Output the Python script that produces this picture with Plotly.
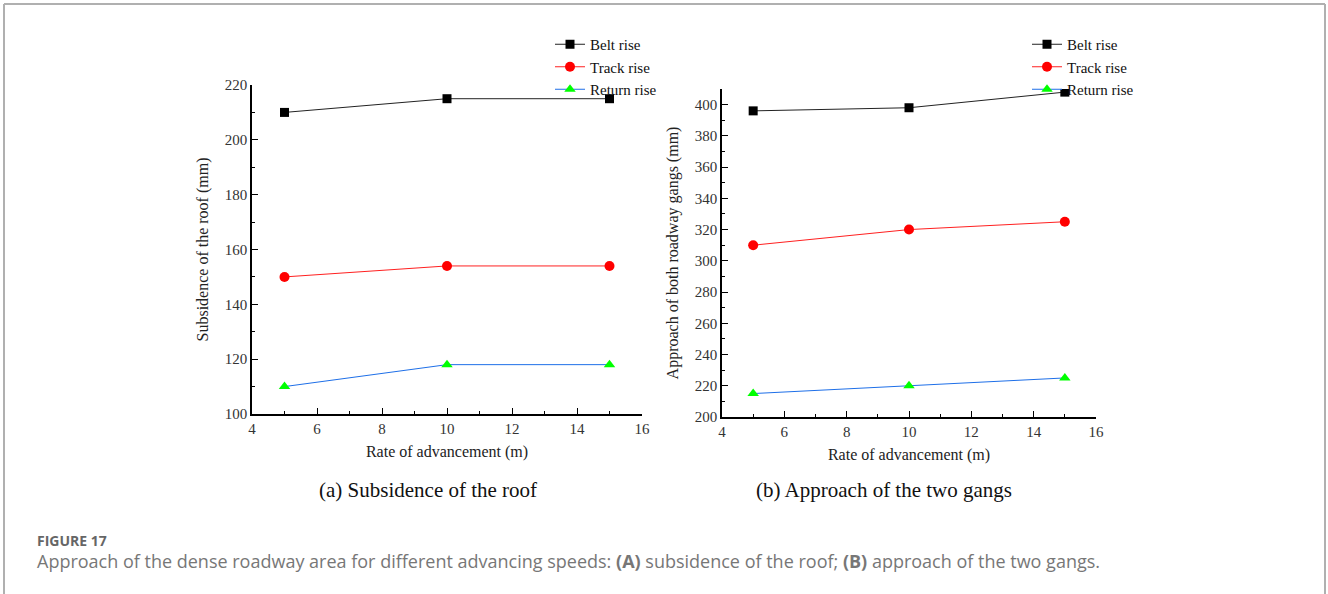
import plotly.graph_objects as go

# ---- data ----
rate = [5, 10, 15]
roof_belt = [210, 215, 215]
roof_track = [150, 154, 154]
roof_return = [110, 118, 118]
gang_belt = [396, 398, 408]
gang_track = [310, 320, 325]
gang_return = [215, 220, 225]
series_names = ["Belt rise", "Track rise", "Return rise"]

W, H = 1328, 594
def px(x): return x / W
def py(y): return 1 - y / H

SERIF = "Liberation Serif, Times New Roman, serif"
line_cols = ["#222222", "#ff2020", "#1e6fe8"]
mk_cols = ["#000000", "#ff0000", "#00ff00"]
symbols = ["square", "circle", "triangle-up"]
msize = [9, 10, 10]

fig = go.Figure()
left = [roof_belt, roof_track, roof_return]
right = [gang_belt, gang_track, gang_return]
for i in range(3):
    fig.add_trace(go.Scatter(x=rate, y=left[i], name=series_names[i], mode="lines+markers",
                             line=dict(color=line_cols[i], width=1),
                             marker=dict(symbol=symbols[i], color=mk_cols[i], size=msize[i]),
                             xaxis="x", yaxis="y", legend="legend"))
for i in range(3):
    fig.add_trace(go.Scatter(x=rate, y=right[i], name=series_names[i], mode="lines+markers",
                             line=dict(color=line_cols[i], width=1),
                             marker=dict(symbol=symbols[i], color=mk_cols[i], size=msize[i]),
                             xaxis="x2", yaxis="y2", legend="legend2"))

ax_common = dict(showline=True, linecolor="#000", linewidth=1.5, ticks="inside", ticklen=6,
                 tickcolor="#000", tickwidth=1.2, showgrid=False, zeroline=False,
                 tickfont=dict(family=SERIF, size=15, color="#333"))
TFONT = dict(family=SERIF, size=16, color="#222")
xminor = dict(ticks="inside", ticklen=3, tickcolor="#000", dtick=1)
yminor = dict(ticks="inside", ticklen=3, tickcolor="#000", dtick=10)
LFONT = dict(family=SERIF, size=15, color="#111")

fig.update_layout(
    width=W, height=H, margin=dict(l=0, r=0, t=0, b=0, autoexpand=False),
    paper_bgcolor="white", plot_bgcolor="white",
    xaxis=dict(domain=[px(252), px(642)], range=[4, 16], dtick=2, anchor="y",
               title=dict(text="Rate of advancement (m)", font=TFONT, standoff=10),
               minor=xminor, **ax_common),
    yaxis=dict(domain=[py(414), py(85)], range=[100, 220], dtick=20, anchor="x",
               title=dict(text="Subsidence of the roof (mm)", font=TFONT, standoff=12),
               minor=yminor, **ax_common),
    xaxis2=dict(domain=[px(722), px(1096)], range=[4, 16], dtick=2, anchor="y2",
                title=dict(text="Rate of advancement (m)", font=TFONT, standoff=10),
                minor=xminor, **ax_common),
    yaxis2=dict(domain=[py(417), py(89)], range=[200, 410], dtick=20, anchor="x2",
                title=dict(text="Approach of both roadway gangs (mm)", font=TFONT, standoff=12),
                minor=yminor, **ax_common),
    legend=dict(x=px(550), y=py(28), xanchor="left", yanchor="top", bgcolor="rgba(0,0,0,0)",
                font=LFONT, itemwidth=30, tracegroupgap=0),
    legend2=dict(x=px(1027), y=py(28), xanchor="left", yanchor="top", bgcolor="rgba(0,0,0,0)",
                 font=LFONT, itemwidth=30, tracegroupgap=0),
    showlegend=True,
)

annotations = [
    dict(text="(a) Subsidence of the roof", x=px(428), y=py(490), xref="paper", yref="paper",
         showarrow=False, font=dict(family=SERIF, size=21, color="#111"), xanchor="center", yanchor="middle"),
    dict(text="(b) Approach of the two gangs", x=px(884), y=py(490), xref="paper", yref="paper",
         showarrow=False, font=dict(family=SERIF, size=21, color="#111"), xanchor="center", yanchor="middle"),
    dict(text="<b>FIGURE 17</b>", x=px(36), y=py(540), xref="paper", yref="paper", showarrow=False,
         borderpad=0, font=dict(family="Open Sans, sans-serif", size=14, color="#666"),
         xanchor="left", yanchor="middle"),
    dict(text="Approach of the dense roadway area for different advancing speeds: <b>(A)</b> subsidence of the roof; <b>(B)</b> approach of the two gangs.",
         x=px(36), y=py(561), xref="paper", yref="paper", showarrow=False, borderpad=0,
         font=dict(family="Open Sans, sans-serif", size=18, color="#777"), xanchor="left", yanchor="middle"),
]
fig.update_layout(annotations=annotations)

frame = dict(type="line", xref="paper", yref="paper", line=dict(color="#b0b0b0", width=2))
fig.update_layout(shapes=[
    dict(frame, x0=px(4), x1=px(1325), y0=py(4), y1=py(4)),
    dict(frame, x0=px(4), x1=px(4), y0=py(4), y1=0),
    dict(frame, x0=px(1325), x1=px(1325), y0=py(4), y1=0),
])

fig.write_html("out.html")
